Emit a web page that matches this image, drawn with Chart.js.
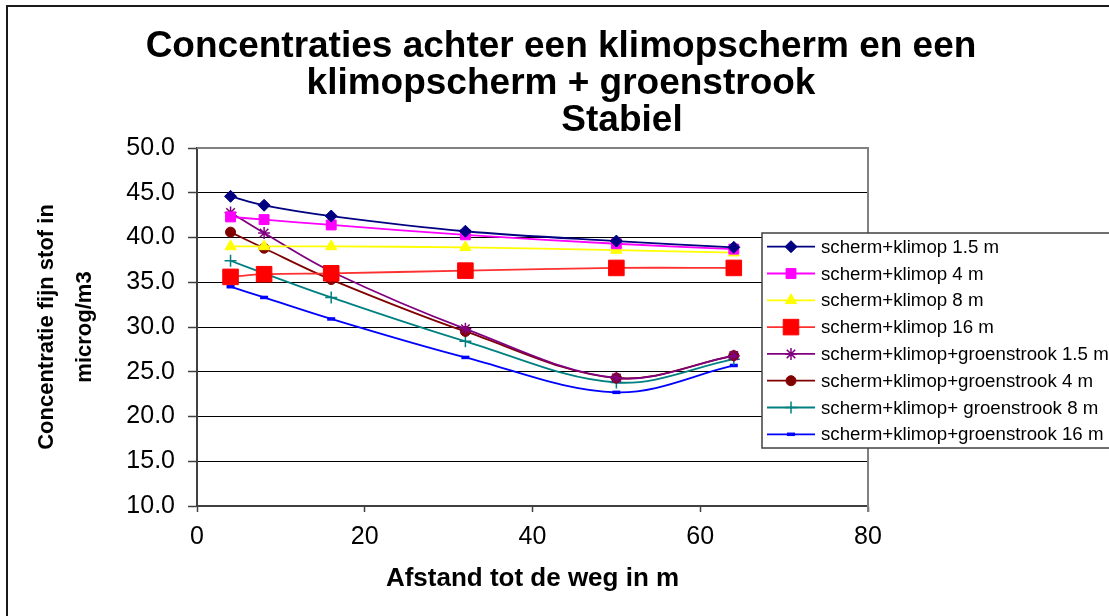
<!DOCTYPE html>
<html>
<head>
<meta charset="utf-8">
<title>Concentraties achter een klimopscherm</title>
<script src="https://cdn.jsdelivr.net/npm/chart.js@4/dist/chart.umd.min.js"></script>
<style>
  html, body { margin: 0; padding: 0; background: #ffffff; }
  #wrap { width: 1109px; height: 616px; position: relative; }
  canvas { display: block; }
</style>
</head>
<body>
<div id="wrap"><canvas id="c" width="1109" height="616"></canvas></div>
<script>
// Distance to the road (m)
const afstand = [4, 8, 16, 32, 50, 64];

// Fine dust concentration (microg/m3) per configuration
const klimop15 = [44.6, 43.6, 42.4, 40.7, 39.6, 38.9];
const klimop4 = [42.3, 42.0, 41.4, 40.3, 39.3, 38.7];
const klimop8 = [39.0, 39.0, 39.0, 38.9, 38.6, 38.3];
const klimop16 = [35.6, 35.9, 36.0, 36.3, 36.6, 36.6];
const groen15 = [42.8, 40.5, 36.2, 29.8, 24.3, 26.8];
const groen4 = [40.6, 38.8, 35.3, 29.5, 24.3, 26.8];
const groen8 = [37.4, 36.0, 33.3, 28.4, 23.8, 26.4];
const groen16 = [34.5, 33.3, 30.9, 26.6, 22.7, 25.7];

const seriesNames = [
  'scherm+klimop 1.5 m',
  'scherm+klimop 4 m',
  'scherm+klimop 8 m',
  'scherm+klimop 16 m',
  'scherm+klimop+groenstrook 1.5 m',
  'scherm+klimop+groenstrook 4 m',
  'scherm+klimop+ groenstrook 8 m',
  'scherm+klimop+groenstrook 16 m'
];

// Axis ticks
const xTicks = [0, 20, 40, 60, 80];
const yTicks = [10, 15, 20, 25, 30, 35, 40, 45, 50];

const titleLines = ['Concentraties achter een klimopscherm en een', 'klimopscherm + groenstrook', 'Stabiel'];
const yTitle = ['Concentratie fijn stof in', 'microg/m3'];
const xTitle = 'Afstand tot de weg in m';

const FONT = '"Liberation Sans", Arial, Helvetica, sans-serif';

function pts(values) {
  return afstand.map((x, i) => ({ x: x, y: values[i] }));
}

const styles = [
  { color: '#000080', fill: '#000080', pointStyle: 'rectRot', radius: 6, bw: 1 },
  { color: '#FF00FF', fill: '#FF00FF', pointStyle: 'rect', radius: 7, bw: 1 },
  { color: '#FFFF00', fill: '#FFFF00', pointStyle: 'triangle', radius: 6.5, bw: 1 },
  { color: '#FF3030', fill: '#FF0000', pointStyle: 'rect', radius: 11, bw: 1 },
  { color: '#800080', fill: '#800080', pointStyle: 'star', radius: 6, bw: 1.5 },
  { color: '#800000', fill: '#800000', pointStyle: 'circle', radius: 5, bw: 1 },
  { color: '#008080', fill: '#008080', pointStyle: 'cross', radius: 6, bw: 1.5 },
  { color: '#0000FF', fill: '#0000FF', pointStyle: 'line', radius: 4, bw: 3.5 }
];

const seriesValues = [klimop15, klimop4, klimop8, klimop16, groen15, groen4, groen8, groen16];

const datasets = seriesValues.map((vals, i) => ({
  label: seriesNames[i],
  data: pts(vals),
  borderColor: styles[i].color,
  backgroundColor: styles[i].fill,
  borderWidth: 1.8,
  tension: 0.35,
  pointStyle: styles[i].pointStyle,
  pointRadius: styles[i].radius,
  pointBorderWidth: styles[i].bw,
  pointBorderColor: styles[i].fill,
  pointBackgroundColor: styles[i].fill,
  pointHoverRadius: styles[i].radius,
  xAxisID: 'x',
  yAxisID: 'y'
}));

// Outer frame of the chart object
const outerFrame = {
  id: 'outerFrame',
  beforeDraw(chart) {
    const ctx = chart.ctx;
    ctx.save();
    ctx.fillStyle = '#ffffff';
    ctx.fillRect(0, 0, chart.width, chart.height);
    ctx.strokeStyle = '#1a1a1a';
    ctx.lineWidth = 2;
    ctx.beginPath();
    ctx.moveTo(7, chart.height + 5);
    ctx.lineTo(7, 6);
    ctx.lineTo(chart.width + 5, 6);
    ctx.stroke();
    ctx.restore();
  }
};

// Three-line heading; the last line sits a little right of centre
const heading = {
  id: 'heading',
  afterDraw(chart) {
    const ctx = chart.ctx;
    const centres = [561, 561, 622];
    const rows = [47, 84, 121];
    ctx.save();
    ctx.fillStyle = '#000000';
    ctx.font = 'bold 37px ' + FONT;
    ctx.textAlign = 'center';
    ctx.textBaseline = 'middle';
    titleLines.forEach((t, i) => ctx.fillText(t, centres[i], rows[i]));
    ctx.restore();
  }
};

// Grey top and right edge of the plot area
const plotFrame = {
  id: 'plotFrame',
  beforeDatasetsDraw(chart) {
    const { ctx, chartArea: a } = chart;
    ctx.save();
    ctx.strokeStyle = '#808080';
    ctx.lineWidth = 2;
    ctx.beginPath();
    ctx.moveTo(a.left, a.top);
    ctx.lineTo(a.right, a.top);
    ctx.lineTo(a.right, a.bottom + 6);
    ctx.stroke();
    ctx.restore();
  }
};

// Boxed legend overlapping the right of the plot area
const boxLegend = {
  id: 'boxLegend',
  afterDraw(chart) {
    const ctx = chart.ctx;
    const boxL = 762, boxT = 233, boxB = 448;
    const rowY0 = 246.7, rowStep = 26.8;
    ctx.save();
    ctx.fillStyle = '#ffffff';
    ctx.fillRect(boxL, boxT, chart.width - boxL + 10, boxB - boxT);
    ctx.strokeStyle = '#404040';
    ctx.lineWidth = 1.5;
    ctx.strokeRect(boxL, boxT, chart.width - boxL + 10, boxB - boxT);
    chart.data.datasets.forEach((ds, i) => {
      const y = rowY0 + i * rowStep;
      ctx.strokeStyle = ds.borderColor;
      ctx.lineWidth = 1.8;
      ctx.beginPath();
      ctx.moveTo(767, y);
      ctx.lineTo(815, y);
      ctx.stroke();
      ctx.fillStyle = ds.pointBackgroundColor;
      ctx.strokeStyle = ds.pointBorderColor;
      ctx.lineWidth = ds.pointBorderWidth;
      Chart.helpers.drawPoint(ctx, {
        pointStyle: ds.pointStyle,
        radius: ds.pointRadius,
        borderWidth: ds.pointBorderWidth,
        rotation: 0
      }, 791, y);
      ctx.fillStyle = '#000000';
      ctx.font = '18.7px ' + FONT;
      ctx.textBaseline = 'middle';
      ctx.textAlign = 'left';
      ctx.fillText(ds.label, 821, y + 1);
    });
    ctx.restore();
  }
};

new Chart(document.getElementById('c'), {
  type: 'line',
  data: { datasets },
  options: {
    responsive: false,
    animation: false,
    devicePixelRatio: 1,
    layout: { padding: { top: 148, left: 0, right: 0, bottom: 0 } },
    plugins: {
      legend: { display: false },
      tooltip: { enabled: false },
      title: { display: false }
    },
    scales: {
      x: {
        type: 'linear',
        position: 'bottom',
        min: 0,
        max: 80,
        afterBuildTicks(scale) { scale.ticks = xTicks.map(v => ({ value: v })); },
        afterFit(scale) { scale.height = 110; },
        grid: { drawOnChartArea: false, drawTicks: true, tickLength: 6, tickColor: '#404040', tickWidth: 1.5 },
        border: { color: '#404040', width: 2 },
        ticks: {
          color: '#000000',
          padding: 10,
          maxRotation: 0,
          font: { family: FONT, size: 25 },
          callback: v => String(v)
        },
        title: {
          display: true,
          text: xTitle,
          color: '#000000',
          font: { family: FONT, size: 26, weight: 'bold', lineHeight: 1.2 },
          padding: { top: 0, bottom: 22 }
        }
      },
      y: {
        type: 'linear',
        position: 'left',
        min: 10,
        max: 50,
        afterBuildTicks(scale) { scale.ticks = yTicks.map(v => ({ value: v })); },
        afterFit(scale) { scale.width = 197; },
        grid: {
          color: c => (c.tick && c.tick.value === 50) ? '#808080' : '#000000',
          lineWidth: 1,
          drawTicks: true,
          tickLength: 9,
          tickColor: '#404040',
          tickWidth: 1.5
        },
        border: { color: '#404040', width: 2 },
        ticks: {
          color: '#000000',
          padding: 13,
          font: { family: FONT, size: 25 },
          callback: v => Number(v).toFixed(1)
        },
        title: {
          display: true,
          text: yTitle,
          color: '#000000',
          font: { family: FONT, size: 22, weight: 'bold', lineHeight: 38 / 22 },
          padding: { top: 28, bottom: 0 }
        }
      },
      yRight: {
        type: 'linear',
        position: 'right',
        display: true,
        afterFit(scale) { scale.width = 241; },
        grid: { display: false, drawTicks: false },
        border: { display: false },
        ticks: { display: false },
        title: { display: false }
      }
    }
  },
  plugins: [outerFrame, plotFrame, boxLegend, heading]
});
</script>
</body>
</html>
